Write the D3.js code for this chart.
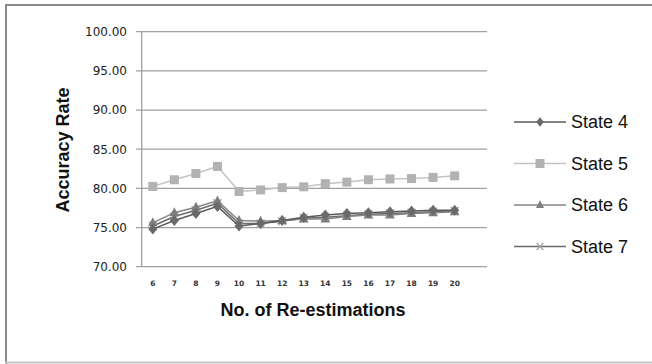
<!DOCTYPE html>
<html><head><meta charset="utf-8">
<script src="https://cdn.jsdelivr.net/npm/d3@7"></script>
<style>body{margin:0;background:#fff}svg{display:block}</style>
</head><body>
<script>
const categories = [6,7,8,9,10,11,12,13,14,15,16,17,18,19,20];
const state4 = [74.8, 75.9, 76.8, 77.7, 75.2, 75.5, 75.9, 76.3, 76.6, 76.8, 76.9, 77.0, 77.1, 77.2, 77.2];
const state5 = [80.25, 81.1, 81.9, 82.8, 79.6, 79.8, 80.1, 80.2, 80.6, 80.8, 81.1, 81.2, 81.25, 81.4, 81.6];
const state6 = [75.6, 76.9, 77.6, 78.4, 75.9, 75.8, 75.9, 76.1, 76.1, 76.4, 76.6, 76.6, 76.8, 76.9, 77.0];
const state7 = [75.2, 76.4, 77.2, 78.1, 75.5, 75.5, 75.8, 76.2, 76.3, 76.5, 76.7, 76.8, 76.9, 77.0, 77.1];
const yTicks = [70, 75, 80, 85, 90, 95, 100];
const seriesNames = ["State 4", "State 5", "State 6", "State 7"];

const W = 652, H = 364;
const svg = d3.select("body").append("svg").attr("width", W).attr("height", H);

// outer frame
svg.append("line").attr("x1",5).attr("x2",W).attr("y1",5).attr("y2",5).attr("stroke","#8a8a8a").attr("stroke-width",2);
svg.append("line").attr("x1",6).attr("x2",6).attr("y1",4).attr("y2",H).attr("stroke","#8a8a8a").attr("stroke-width",2);
svg.append("line").attr("x1",5).attr("x2",W).attr("y1",362.5).attr("y2",362.5).attr("stroke","#c4c4c4").attr("stroke-width",2);

const x = d3.scaleLinear().domain([5.5, 21.5]).range([142, 487]);
const y = d3.scaleLinear().domain([70, 100]).range([266.7, 31.7]);

// gridlines
svg.append("g").selectAll("line").data(yTicks).join("line")
  .attr("x1", 136).attr("x2", 487)
  .attr("y1", d => y(d)).attr("y2", d => y(d))
  .attr("stroke", "#a0a0a0").attr("stroke-width", 1.3);
// y axis line
svg.append("line").attr("x1",141.7).attr("x2",141.7).attr("y1",y(100)).attr("y2",y(70))
  .attr("stroke","#a0a0a0").attr("stroke-width",1.3);

// y tick labels
svg.append("g").selectAll("text").data(yTicks).join("text")
  .attr("x", 127).attr("y", d => y(d)).attr("dy", "0.36em")
  .attr("text-anchor", "end").attr("font-family", "DejaVu Sans").attr("font-size", 12)
  .attr("fill", "#222").text(d => d.toFixed(2));

// x tick labels
svg.append("g").selectAll("text").data(categories).join("text")
  .attr("x", d => x(d)).attr("y", 283).attr("dy", "0.35em")
  .attr("text-anchor", "middle").attr("font-family", "DejaVu Sans").attr("font-weight", "bold")
  .attr("font-size", 7.5).attr("fill", "#333").text(d => d);

// titles
svg.append("text").attr("x", 313).attr("y", 316).attr("text-anchor", "middle")
  .attr("font-family", "Liberation Sans").attr("font-weight", "bold").attr("font-size", 18)
  .attr("fill", "#111").text("No. of Re-estimations");
svg.append("text").attr("transform", "translate(69,150) rotate(-90)").attr("text-anchor", "middle")
  .attr("font-family", "Liberation Sans").attr("font-weight", "bold").attr("font-size", 18)
  .attr("fill", "#111").text("Accuracy Rate");

const series = [
  {name: seriesNames[0], values: state4, line: "#5a5a5a", fill: "#6a6a6a", marker: "diamond"},
  {name: seriesNames[1], values: state5, line: "#c4c4c4", fill: "#b2b2b2", marker: "square"},
  {name: seriesNames[2], values: state6, line: "#858585", fill: "#7e7e7e", marker: "triangle"},
  {name: seriesNames[3], values: state7, line: "#6a6a6a", fill: "#a8a8a8", marker: "cross"}
];

function drawMarker(g, type, cx, cy, fill, scale) {
  const s = scale || 1;
  if (type === "diamond") {
    g.append("path").attr("d", `M${cx},${cy-5.5*s}L${cx+4.5*s},${cy}L${cx},${cy+5.5*s}L${cx-4.5*s},${cy}Z`).attr("fill", fill);
  } else if (type === "square") {
    g.append("rect").attr("x", cx-4.5*s).attr("y", cy-4.5*s).attr("width", 9*s).attr("height", 9*s).attr("fill", fill);
  } else if (type === "triangle") {
    g.append("path").attr("d", `M${cx},${cy-5.5*s}L${cx+4.8*s},${cy+3.5*s}L${cx-4.8*s},${cy+3.5*s}Z`).attr("fill", fill);
  } else {
    g.append("path").attr("d", `M${cx-4*s},${cy-4*s}L${cx+4*s},${cy+4*s}M${cx+4*s},${cy-4*s}L${cx-4*s},${cy+4*s}`)
      .attr("stroke", fill).attr("stroke-width", 1.4).attr("fill", "none");
  }
}

const lineGen = d3.line().x((d,i) => x(categories[i])).y(d => y(d));
const order = [1, 3, 2, 0];
order.forEach(k => {
  const s = series[k];
  const g = svg.append("g");
  g.append("path").attr("d", lineGen(s.values)).attr("fill", "none")
    .attr("stroke", s.line).attr("stroke-width", 1.5);
  s.values.forEach((v,i) => drawMarker(g, s.marker, x(categories[i]), y(v), s.fill));
});

// legend
const legY = [122, 163.5, 205, 246.5];
series.forEach((s, i) => {
  const g = svg.append("g");
  g.append("line").attr("x1", 514).attr("x2", 566).attr("y1", legY[i]).attr("y2", legY[i])
    .attr("stroke", s.line).attr("stroke-width", 1.5);
  drawMarker(g, s.marker, 540, legY[i], s.fill, i === 1 ? 1 : 0.85);
  g.append("text").attr("x", 571).attr("y", legY[i]).attr("dy", "0.36em")
    .attr("font-family", "Liberation Sans").attr("font-size", 18).attr("fill", "#111").text(s.name);
});
</script>
</body></html>
